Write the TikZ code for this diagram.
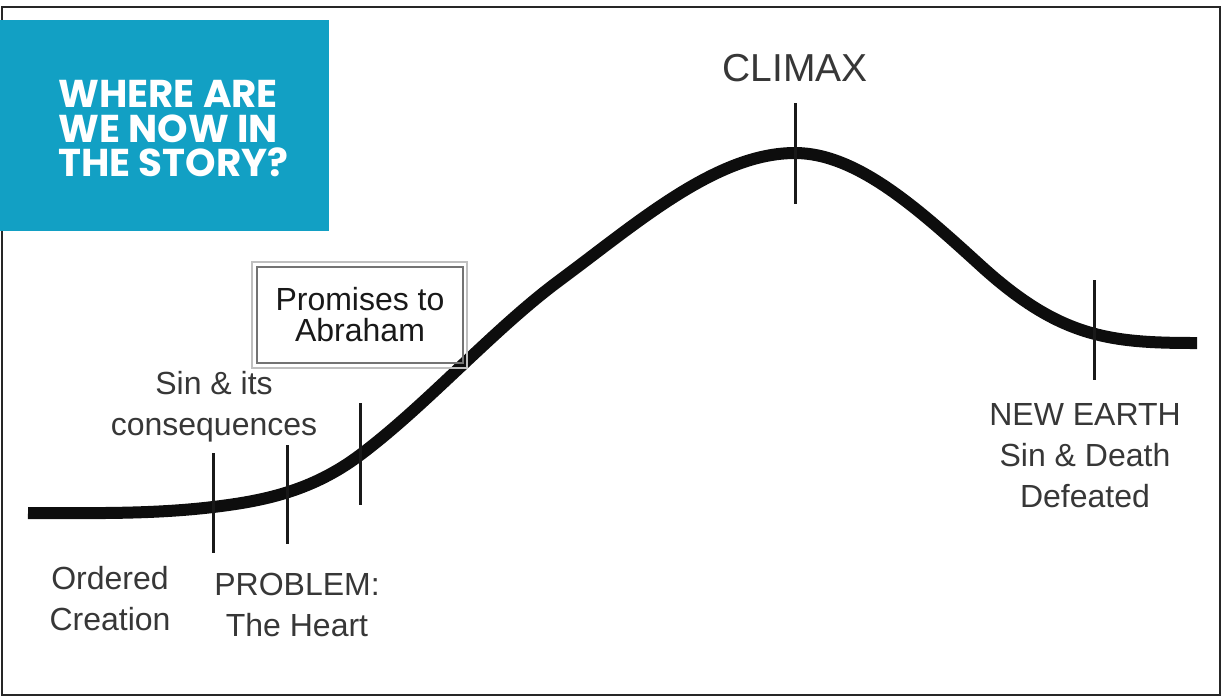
\documentclass[tikz,border=0pt]{standalone}
\usepackage{fontspec}
\setmainfont{Liberation Sans}
\newfontfamily\headfont{Poppins}
\usepackage{xcolor}
\usepackage{tikz}

\begin{document}
\begin{tikzpicture}[x=0.5pt,y=-0.5pt]
    \definecolor{storyblue}{RGB}{18,160,196}
    \definecolor{labelgray}{RGB}{55,55,55}

    \tikzstyle{stage}=[inner sep=0pt,anchor=north,align=center,text=labelgray,font=\fontsize{16}{20.5}\selectfont]  % text under/over the line
    \tikzstyle{marker}=[line width=1.5pt,black!90]  % small vertical ticks
    \tikzstyle{arc}=[line width=6pt,black!95]  % story line

    \useasboundingbox (0,0) rectangle (1225,698);
    \draw[line width=1.4pt,black!85] (2,7) rectangle (1220,695);  % frame

    % title box
    \fill[storyblue] (0,20) rectangle (329,231);
    \node[anchor=north west,inner sep=0pt,align=left,text=white,font=\headfont\bfseries\fontsize{19.4}{17.2}\selectfont](title) at (58,80){WHERE ARE\\WE NOW IN\\THE STORY?};

    % story line
    \draw[arc] (28,513) .. controls (89.7,513) and (151.3,514.4) .. (213,507)
        .. controls (262,501.1) and (311,491.8) .. (360,455)
        .. controls (426.7,405) and (493.3,329.3) .. (560,280)
        .. controls (638.3,222) and (716.7,153) .. (795,153)
        .. controls (856.7,153) and (918.3,208.9) .. (980,265)
        .. controls (1060,338) and (1110,343) .. (1197,343);

    % ticks
    \draw[marker] (213,453) -- (213,553);
    \draw[marker] (287,445) -- (287,544);
    \draw[marker] (360,403) -- (360,505);
    \draw[marker] (795,103) -- (795,204);
    \draw[marker] (1094,280) -- (1094,380);

    % labels
    \node[stage](sin) at (214,371){Sin \& its\\consequences};
    \node[stage](ordered) at (110,566){Ordered\\Creation};
    \node[stage](problem) at (297,573){PROBLEM:\\The Heart};
    \node[stage,font=\fontsize{19.5}{22}\selectfont](climax) at (795,54){CLIMAX};
    \node[stage](newearth) at (1085,403){NEW EARTH\\Sin \& Death\\Defeated};

    % promises box
    \node[draw=black!55,line width=0.8pt,inner sep=0pt,minimum width=103pt,minimum height=48pt,align=center,text=black!90,font=\fontsize{16}{15.5}\selectfont](promises) at (360,315){Promises to\\Abraham};
    \draw[black!25,line width=0.8pt] ([shift={(-4,-4)}]promises.north west) rectangle ([shift={(3,4)}]promises.south east);
\end{tikzpicture}
\end{document}
